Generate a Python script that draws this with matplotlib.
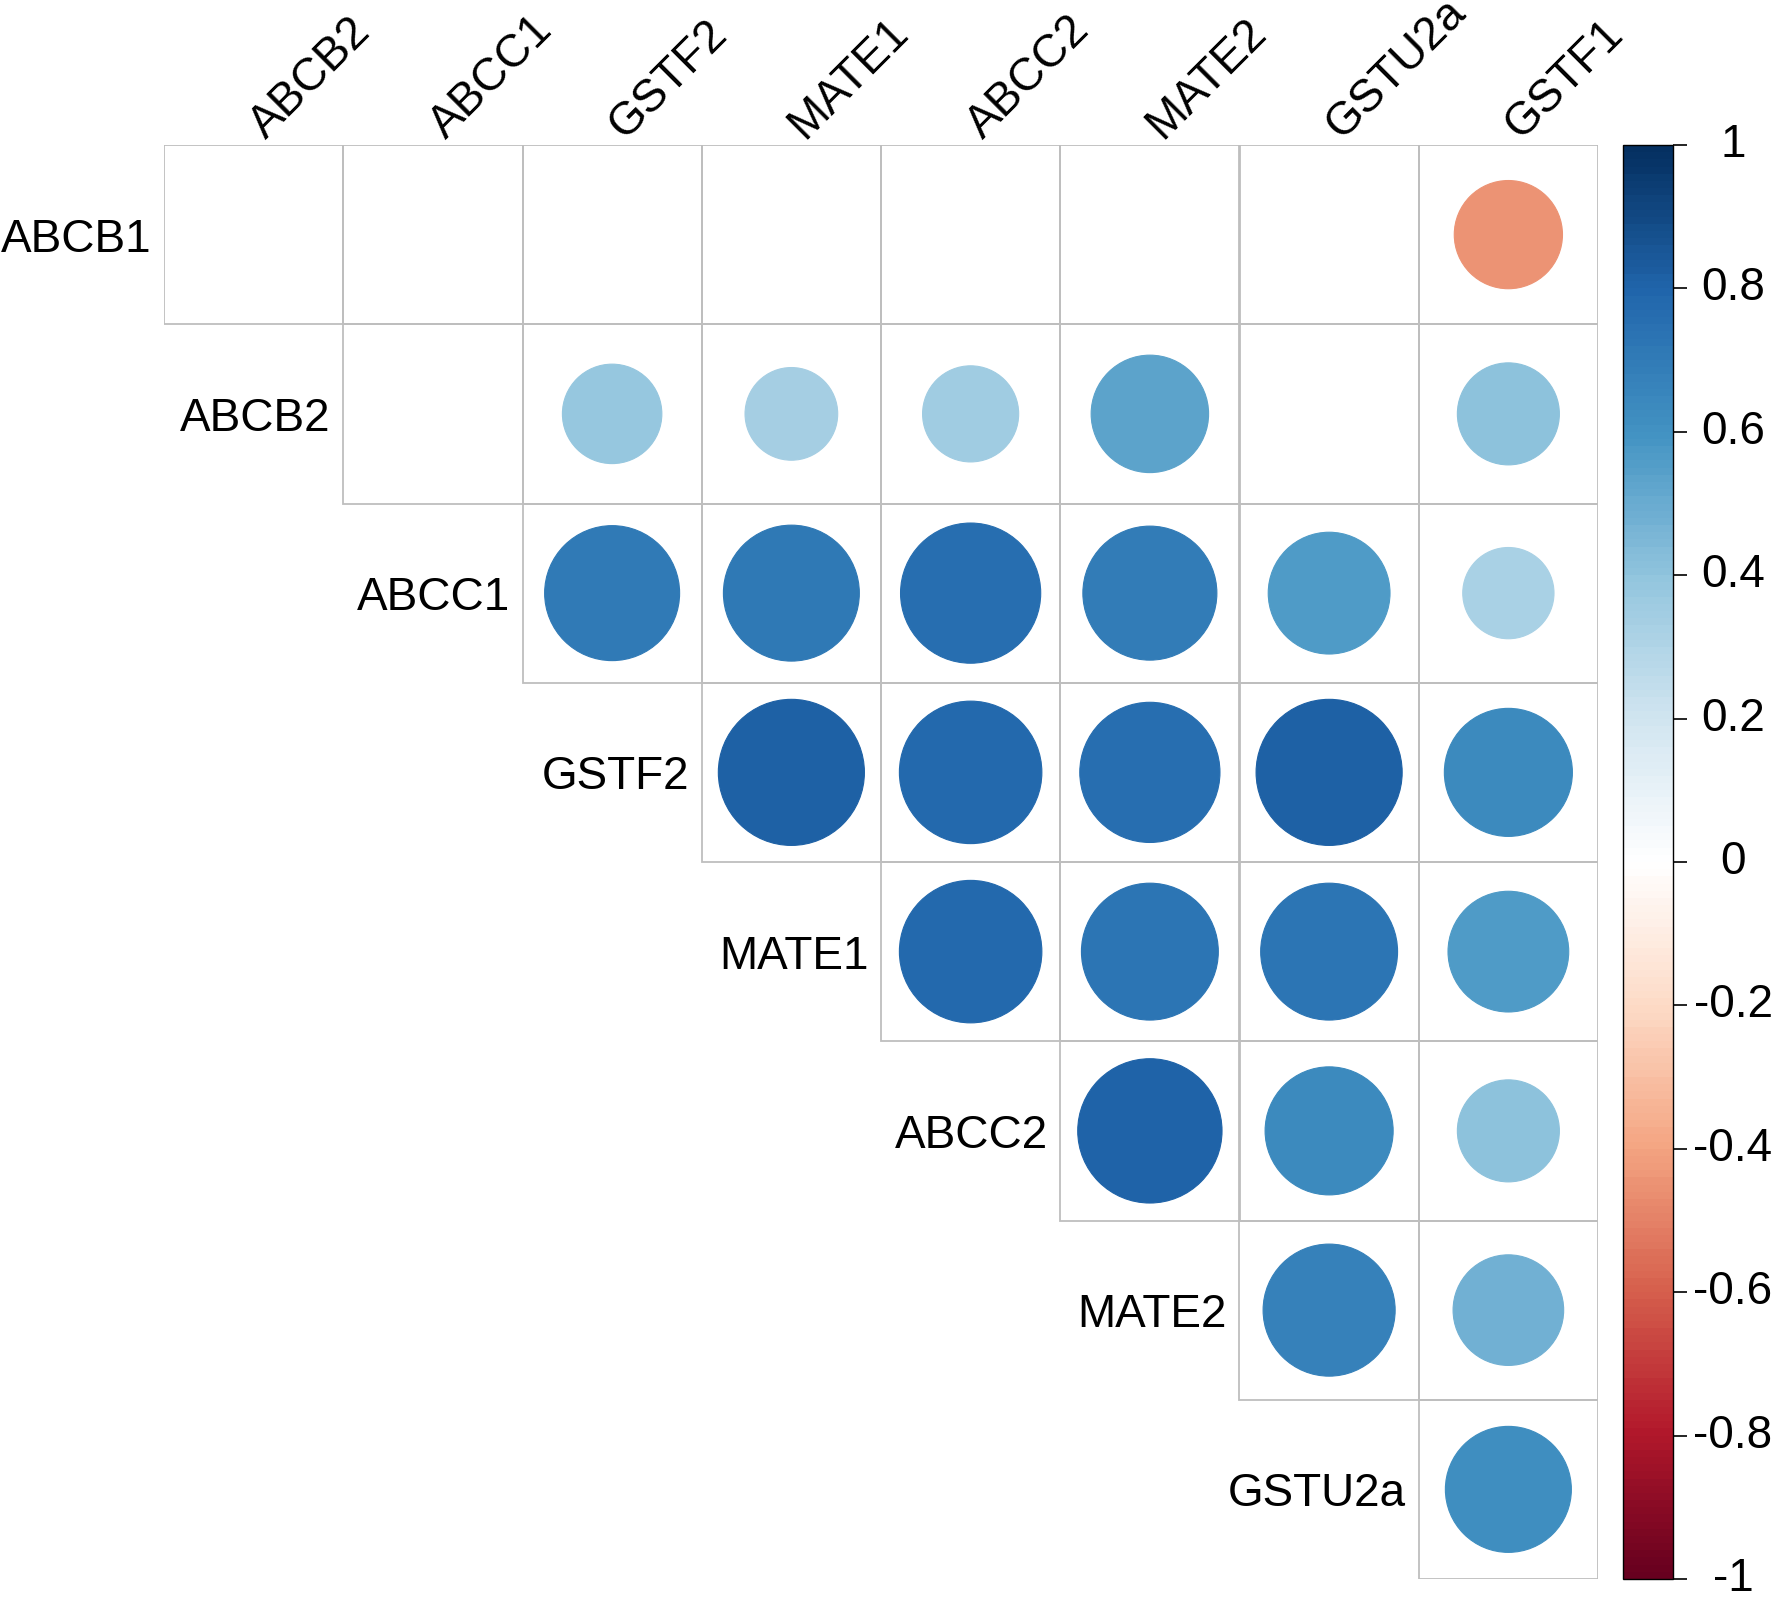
import numpy as np
import matplotlib
matplotlib.use("Agg")
import matplotlib.pyplot as plt
from matplotlib.patches import Circle, Rectangle
from matplotlib.colors import LinearSegmentedColormap, ListedColormap, Normalize
import matplotlib.cm as cm

plt.rcParams['font.family'] = ['Liberation Sans', 'DejaVu Sans']

row_names = ['ABCB1', 'ABCB2', 'ABCC1', 'GSTF2', 'MATE1', 'ABCC2', 'MATE2', 'GSTU2a']
col_names = ['ABCB2', 'ABCC1', 'GSTF2', 'MATE1', 'ABCC2', 'MATE2', 'GSTU2a', 'GSTF1']

# upper triangle, one list per row starting at the diagonal column; nan = not shown
nan = np.nan
r_abcb1 = [nan, nan, nan, nan, nan, nan, nan, -0.45]
r_abcb2 = [nan, 0.38, 0.33, 0.355, 0.53, nan, 0.40]
r_abcc1 = [0.70, 0.71, 0.755, 0.69, 0.57, 0.32]
r_gstf2 = [0.82, 0.78, 0.755, 0.82, 0.63]
r_mate1 = [0.78, 0.72, 0.72, 0.56]
r_abcc2 = [0.80, 0.63, 0.40]
r_mate2 = [0.67, 0.47]
r_gstu2a = [0.61]
rows = [r_abcb1, r_abcb2, r_abcc1, r_gstf2, r_mate1, r_abcc2, r_mate2, r_gstu2a]

cb_ticks = [1, 0.8, 0.6, 0.4, 0.2, 0, -0.2, -0.4, -0.6, -0.8, -1]

# corrplot style RdBu palette, 200 steps
pal = ["#67001F", "#B2182B", "#D6604D", "#F4A582", "#FDDBC7", "#FFFFFF",
       "#D1E5F0", "#92C5DE", "#4393C3", "#2166AC", "#053061"]
cmap = ListedColormap(LinearSegmentedColormap.from_list('rdbu', pal)(np.linspace(0, 1, 200)))
norm = Normalize(-1, 1)

W, H = 1772, 1597
fig = plt.figure(figsize=(W / 100, H / 100), dpi=100)
ax = fig.add_axes([164 / W, (H - 1579) / H, 1434 / W, 1434 / H])
ax.set_xlim(0, 8)
ax.set_ylim(8, 0)
ax.axis('off')

n = len(row_names)
for i in range(n):
    for k, v in enumerate(rows[i]):
        j = i + k
        ax.add_patch(Rectangle((j, i), 1, 1, fill=False, edgecolor='#BEBEBE', lw=1.3, zorder=1))
        if not np.isnan(v):
            rad = 0.45 * np.sqrt(abs(v))
            ax.add_patch(Circle((j + 0.5, i + 0.5), rad, facecolor=cmap(norm(v)),
                                edgecolor=cmap(norm(v)), lw=0.8, zorder=2))
    ax.text(i - 0.07, i + 0.5, row_names[i], ha='right', va='center_baseline',
            fontsize=33, color='black', clip_on=False)

for j, name in enumerate(col_names):
    ax.text(j + 0.57, -0.03, name, rotation=45, rotation_mode='anchor',
            ha='left', va='baseline', fontsize=33, color='black', clip_on=False)

# colour legend
cax = fig.add_axes([1623 / W, (H - 1579) / H, 50 / W, 1434 / H])
sm = cm.ScalarMappable(norm=norm, cmap=cmap)
cb = fig.colorbar(sm, cax=cax, ticks=cb_ticks)
cb.outline.set_linewidth(1.0)
cb.outline.set_edgecolor('black')
cax.tick_params(axis='y', length=10, width=1.2, labelright=False, right=True)
for t in cb_ticks:
    cax.text(2.2, t, ('%g' % t), transform=cax.get_yaxis_transform(),
             ha='center', va='center', fontsize=33, color='black', clip_on=False)

fig.savefig('out.png', dpi=100)
